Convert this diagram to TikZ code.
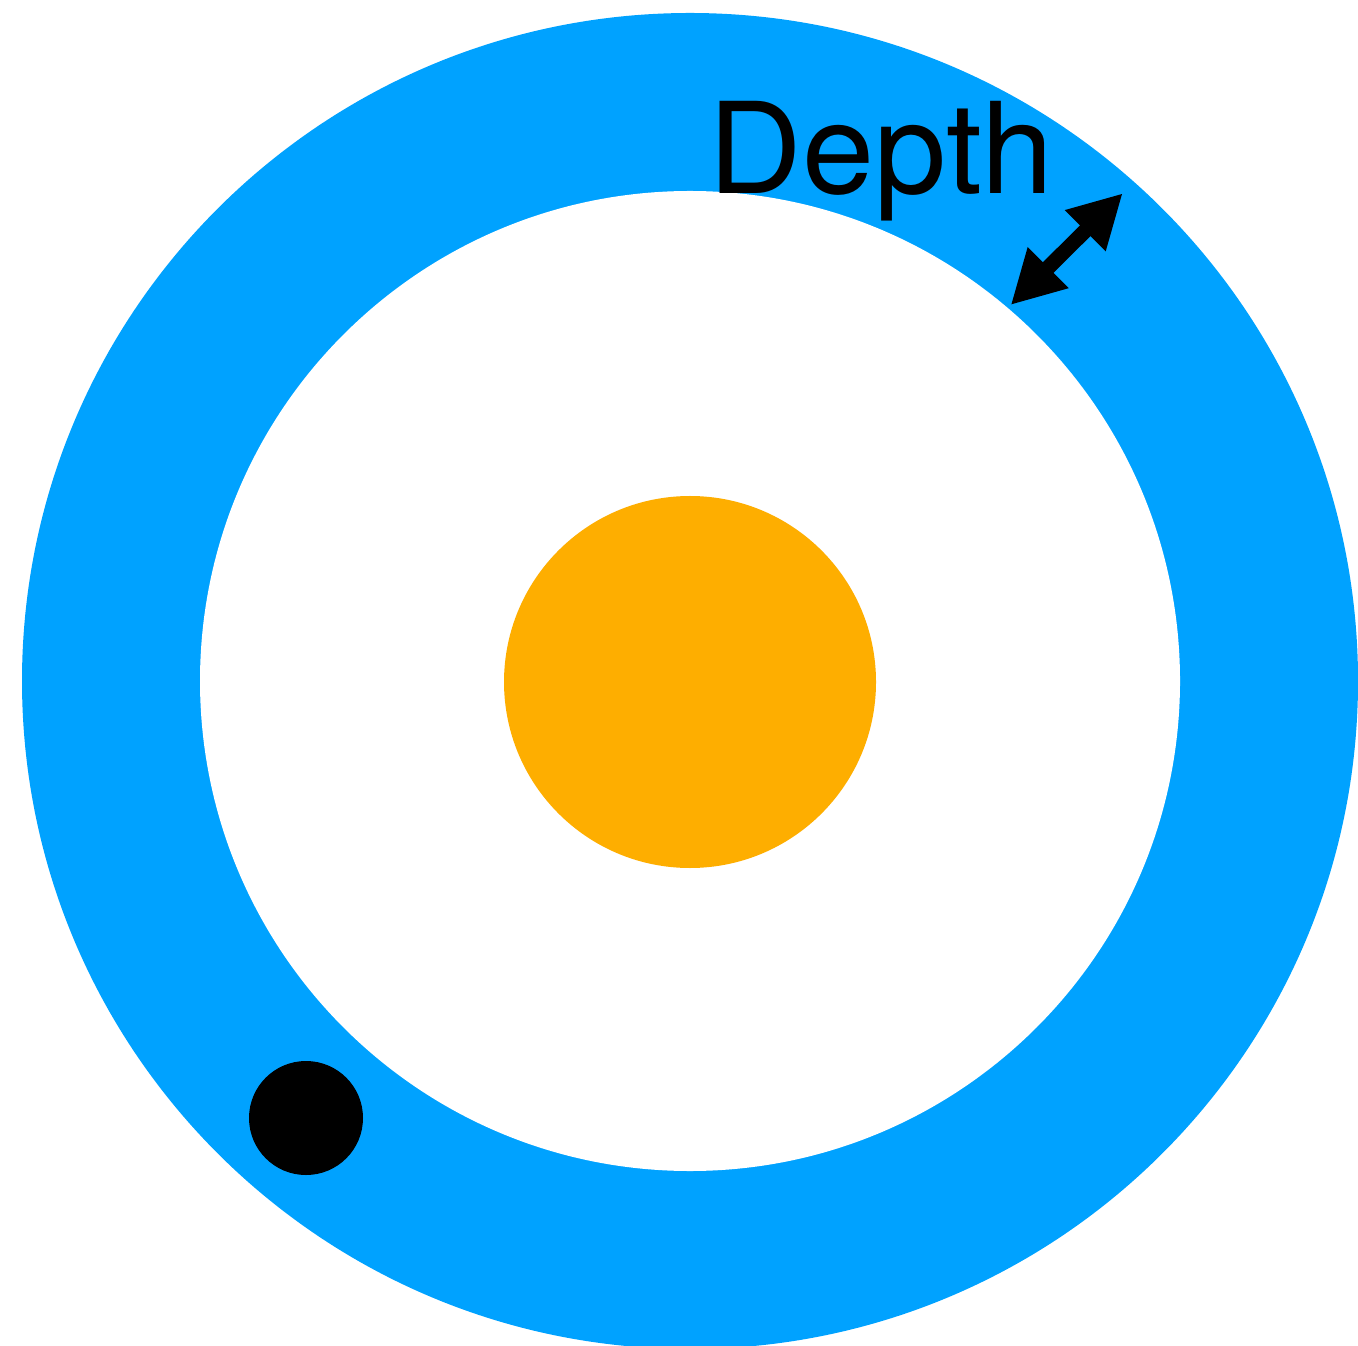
\documentclass[tikz,border=0pt]{standalone}
\usepackage{fontspec}
\setmainfont{TeX Gyre Heros}
\usetikzlibrary{arrows.meta}

\definecolor{ringblue}{RGB}{0,162,255}
\definecolor{coreorange}{RGB}{254,174,0}

\begin{document}
\begin{tikzpicture}

\useasboundingbox (0,0) rectangle (13.58,13.45);

\fill[ringblue] (6.90,6.64) circle(6.68);   % ring
\fill[white] (6.90,6.64) circle(4.90);      % inside
\fill[coreorange] (6.90,6.63) circle(1.86); % core

\fill[black] (3.06,2.27) circle(0.57);

\coordinate (depthin) at (10.107,10.40);
\coordinate (depthout) at (11.227,11.517);
\draw[line width=0.15cm,{Triangle[length=5.3mm,width=5.4mm]}-{Triangle[length=5.3mm,width=5.4mm]}] (depthin) -- (depthout);

\node[anchor=base west,inner sep=0pt,font=\fontsize{36}{40}\selectfont] (depth) at (7.08,11.517) {\scalebox{1.025}[1]{Depth}};

\end{tikzpicture}
\end{document}
